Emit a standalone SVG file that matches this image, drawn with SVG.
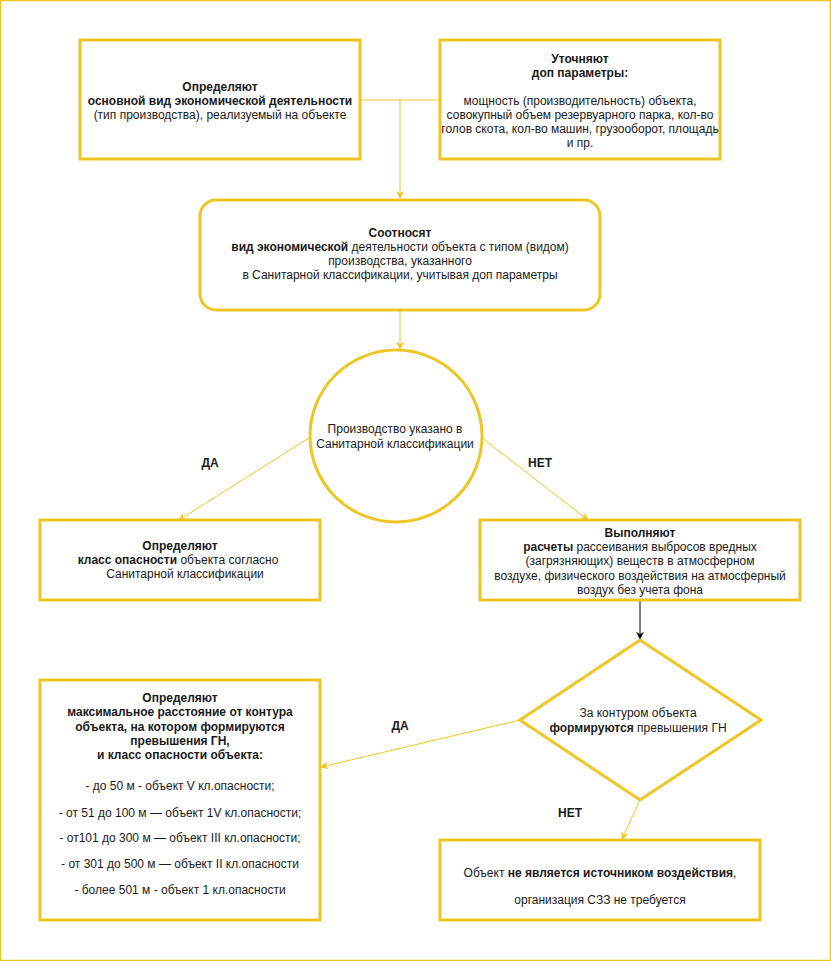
<svg xmlns="http://www.w3.org/2000/svg" width="831" height="961" viewBox="0 0 831 961">
<defs>
<style>
.n{fill:#fff;stroke:#EEC624;stroke-width:3}
.c{fill:none;stroke:#EEC624;stroke-width:1}
.k{fill:none;stroke:#000;stroke-width:1}
text{font-family:"Liberation Sans",Arial,sans-serif;font-size:12px;fill:#1a1a1a;text-anchor:middle}
.b{font-weight:bold}
</style>
<marker id="ay" viewBox="0 0 10 10" refX="9" refY="5" markerWidth="8" markerHeight="8" markerUnits="userSpaceOnUse" orient="auto"><path d="M0,0 L10,5 L0,10 L3,5 Z" fill="#EEC624"/></marker>
<marker id="ak" viewBox="0 0 10 10" refX="9" refY="5" markerWidth="8" markerHeight="8" markerUnits="userSpaceOnUse" orient="auto"><path d="M0,0 L10,5 L0,10 L3,5 Z" fill="#000"/></marker>
</defs>
<rect x="0.5" y="0.5" width="830" height="960" fill="#fff" stroke="#EEC624" stroke-width="1.5"/>
<g id="connectors">
<path class="c" d="M360,100 L440,100"/>
<path class="c" d="M400,100 L400,198" marker-end="url(#ay)"/>
<path class="c" d="M400,310 L400,349" marker-end="url(#ay)"/>
<path class="c" d="M309,438 L179,520" marker-end="url(#ay)"/>
<path class="c" d="M482,438 L588,520" marker-end="url(#ay)"/>
<path class="k" d="M640,600 L640,639" marker-end="url(#ak)"/>
<path class="c" d="M520,720 L321,767" marker-end="url(#ay)"/>
<path class="c" d="M640,800 L622,839" marker-end="url(#ay)"/>
<text class="b" x="210" y="467">ДА</text>
<text class="b" x="540" y="467">НЕТ</text>
<text class="b" x="400" y="730">ДА</text>
<text class="b" x="570" y="817">НЕТ</text>
</g>
<g id="n1">
<rect class="n" x="80" y="40" width="280" height="119"/>
<text class="b" x="220" y="91">Определяют</text>
<text class="b" x="220" y="105">основной вид экономической деятельности</text>
<text x="220" y="119">(тип производства), реализуемый на объекте</text>
</g>
<g id="n2">
<rect class="n" x="440" y="40" width="280" height="119"/>
<text class="b" x="580" y="63">Уточняют</text>
<text class="b" x="580" y="77">доп параметры:</text>
<text x="580" y="105">мощность (производительность) объекта,</text>
<text x="580" y="119">совокупный объем резервуарного парка, кол-во</text>
<text x="580" y="133">голов скота, кол-во машин, грузооборот, площадь</text>
<text x="580" y="147">и пр.</text>
</g>
<g id="n3">
<rect class="n" x="200" y="200" width="400" height="110" rx="16" ry="16"/>
<text class="b" x="400" y="237">Соотносят</text>
<text x="400" y="251"><tspan class="b">вид экономической</tspan> деятельности объекта с типом (видом)</text>
<text x="400" y="265">производства, указанного</text>
<text x="400" y="279">в Санитарной классификации, учитывая доп параметры</text>
</g>
<g id="n4">
<circle class="n" cx="396" cy="436" r="86"/>
<text x="395" y="433">Производство указано в</text>
<text x="395" y="448">Санитарной классификации</text>
</g>
<g id="n5">
<rect class="n" x="40" y="520" width="280" height="80"/>
<text class="b" x="180" y="550">Определяют</text>
<text x="178" y="564"><tspan class="b">класс опасности</tspan> объекта согласно</text>
<text x="185" y="578">Санитарной классификации</text>
</g>
<g id="n6">
<rect class="n" x="480" y="520" width="320" height="80"/>
<text class="b" x="640" y="537">Выполняют</text>
<text x="640" y="551"><tspan class="b">расчеты</tspan> рассеивания выбросов вредных</text>
<text x="640" y="565">(загрязняющих) веществ в атмосферном</text>
<text x="640" y="580">воздухе, физического воздействия на атмосферный</text>
<text x="640" y="594">воздух без учета фона</text>
</g>
<g id="n7">
<polygon class="n" points="640,640 761,720 640,800 520,720"/>
<text x="638" y="717">За контуром объекта</text>
<text x="638" y="732"><tspan class="b">формируются</tspan> превышения ГН</text>
</g>
<g id="n8">
<rect class="n" x="40" y="680" width="280" height="240"/>
<text class="b" x="180" y="702">Определяют</text>
<text class="b" x="180" y="716">максимальное расстояние от контура</text>
<text class="b" x="180" y="731">объекта, на котором формируются</text>
<text class="b" x="180" y="745">превышения ГН,</text>
<text class="b" x="180" y="759">и класс опасности объекта:</text>
<text x="180" y="790">- до 50 м - объект V кл.опасности;</text>
<text x="180" y="817">- от 51 до 100 м — объект 1V кл.опасности;</text>
<text x="180" y="842">- от101 до 300 м — объект III кл.опасности;</text>
<text x="180" y="868">- от 301 до 500 м — объект II кл.опасности</text>
<text x="180" y="894">- более 501 м - объект 1 кл.опасности</text>
</g>
<g id="n9">
<rect class="n" x="440" y="840" width="320" height="80"/>
<text x="600" y="877">Объект <tspan class="b">не является источником воздействия</tspan>,</text>
<text x="600" y="904">организация СЗЗ не требуется</text>
</g>
</svg>
